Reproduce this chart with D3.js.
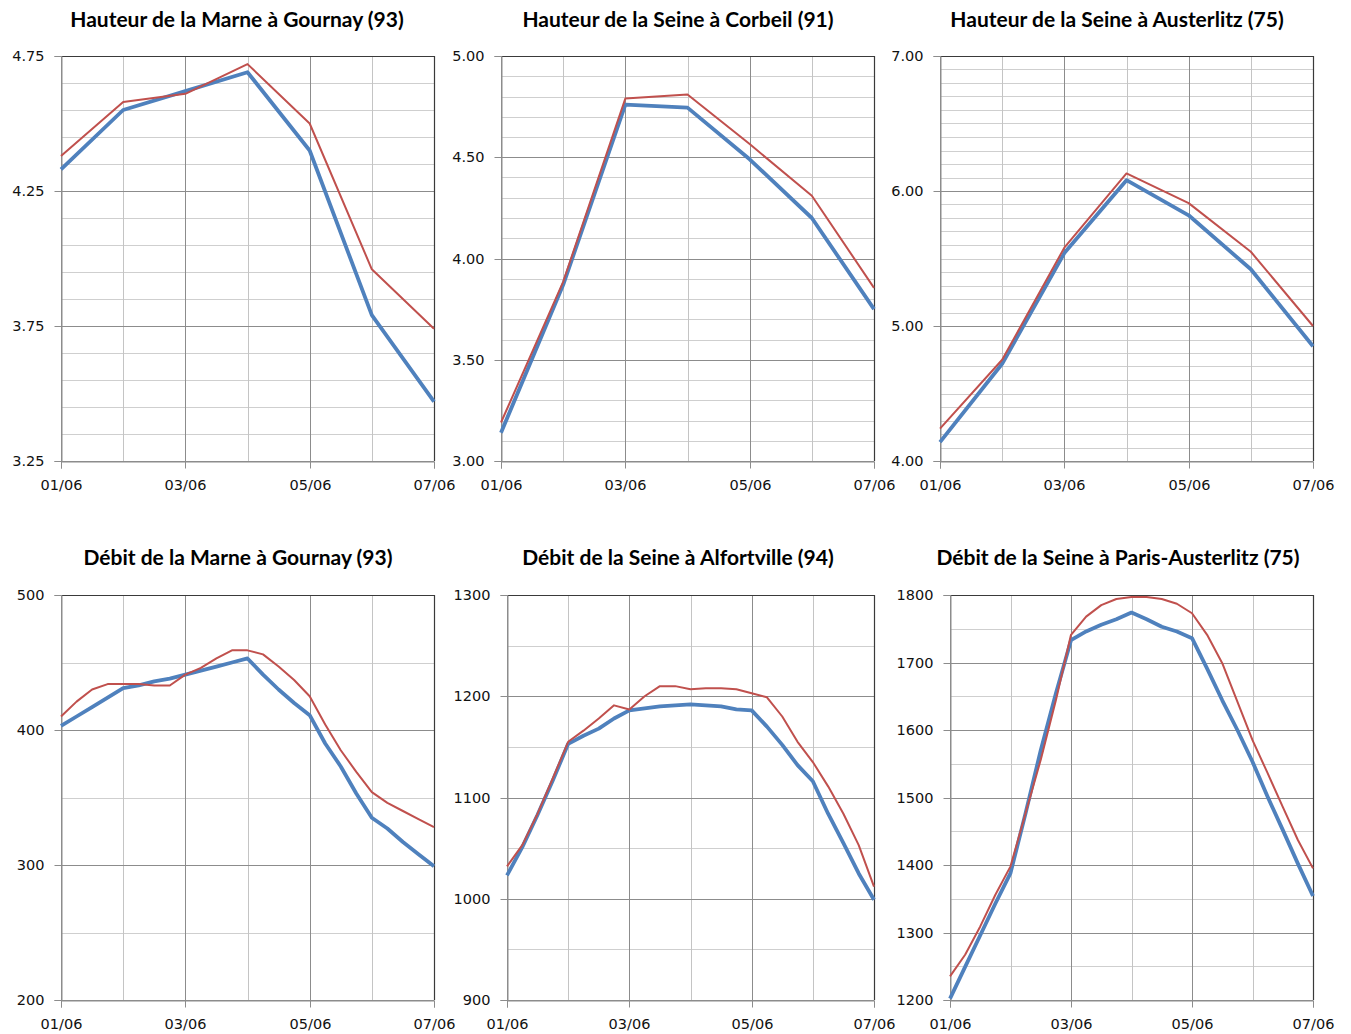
<!DOCTYPE html>
<html><head><meta charset="utf-8">
<script src="https://cdn.jsdelivr.net/npm/d3@7"></script>
<style>body{margin:0;background:#fff} svg{display:block} .tick text{font-family:"DejaVu Sans",sans-serif !important;font-size:14.5px}</style>
</head><body><svg id="c" width="1351" height="1034"></svg>
<script>
// ---------- DATA ----------
const titles = [
  "Hauteur de la Marne à Gournay (93)",
  "Hauteur de la Seine à Corbeil (91)",
  "Hauteur de la Seine à Austerlitz (75)",
  "Débit de la Marne à Gournay (93)",
  "Débit de la Seine à Alfortville (94)",
  "Débit de la Seine à Paris-Austerlitz (75)"
];
const xTickLabels = ["01/06", "03/06", "05/06", "07/06"];
const xTickHours = [0, 48, 96, 144];
const xMinorHours = [24, 72, 120];
const dailyHours = [0, 24, 48, 72, 96, 120, 144];
const sixHourly = [0,6,12,18,24,30,36,42,48,54,60,66,72,78,84,90,96,102,108,114,120,126,132,138,144];

// Hauteurs (m) — blue / red series
const marneGournayH_blue = [4.33, 4.55, 4.62, 4.69, 4.40, 3.79, 3.47];
const marneGournayH_red  = [4.38, 4.58, 4.61, 4.72, 4.50, 3.96, 3.74];
const seineCorbeilH_blue = [3.14, 3.87, 4.76, 4.745, 4.49, 4.20, 3.75];
const seineCorbeilH_red  = [3.19, 3.885, 4.79, 4.81, 4.565, 4.31, 3.855];
const seineAusterlitzH_blue = [4.14, 4.72, 5.54, 6.08, 5.82, 5.42, 4.85];
const seineAusterlitzH_red  = [4.24, 4.75, 5.58, 6.13, 5.91, 5.55, 5.00];

// Débits (m3/s) — 6-hourly
const marneGournayQ_blue = [403,410,417,424,431,433,436,438,441,444,447,450,453,441,430,420,411,390,373,353,335,327,317,308,299];
const marneGournayQ_red  = [410,421,430,434,434,434,433,433,441,446,453,459,459,456,447,437,425,404,385,369,354,346,340,334,328];
const seineAlfortvilleQ_blue = [1023,1051,1083,1117,1153,1161,1168,1178,1186,1188,1190,1191,1192,1191,1190,1187,1186,1170,1152,1132,1116,1084,1055,1025,999];
const seineAlfortvilleQ_red  = [1032,1053,1084,1119,1155,1166,1178,1191,1187,1200,1210,1210,1207,1208,1208,1207,1203,1199,1180,1155,1135,1111,1084,1053,1012];
const seineParisQ_blue = [1202,1249,1296,1343,1388,1477,1570,1654,1733,1746,1756,1764,1774,1764,1753,1746,1736,1691,1644,1600,1553,1501,1452,1402,1354];
const seineParisQ_red  = [1235,1267,1309,1356,1398,1477,1556,1644,1741,1768,1785,1794,1797,1797,1794,1787,1773,1741,1699,1642,1585,1536,1486,1437,1395];

// y axes: [min, max], major step, minor step
const yDomains = [[3.25,4.75],[3.00,5.00],[4.00,7.00],[200,500],[900,1300],[1200,1800]];
const yMajor = [0.5, 0.5, 1.0, 100, 100, 100];
const yMinor = [0.1, 0.1, 0.1, 50, 50, 50];
const yFormats = [".2f", ".2f", ".2f", "d", "d", "d"];

// ---------- LAYOUT ----------
const panels = [
  {x0:61,  x1:434,  y0:56,  y1:461, tx:237,  ty:27,  hours:dailyHours, blue:marneGournayH_blue, red:marneGournayH_red},
  {x0:501, x1:874,  y0:56,  y1:461, tx:678,  ty:27,  hours:dailyHours, blue:seineCorbeilH_blue, red:seineCorbeilH_red},
  {x0:940, x1:1313, y0:56,  y1:461, tx:1117, ty:27,  hours:dailyHours, blue:seineAusterlitzH_blue, red:seineAusterlitzH_red},
  {x0:61,  x1:434,  y0:595, y1:1000, tx:238, ty:565, hours:sixHourly, blue:marneGournayQ_blue, red:marneGournayQ_red},
  {x0:507, x1:874,  y0:595, y1:1000, tx:678, ty:565, hours:sixHourly, blue:seineAlfortvilleQ_blue, red:seineAlfortvilleQ_red},
  {x0:950, x1:1313, y0:595, y1:1000, tx:1118, ty:565, hours:sixHourly, blue:seineParisQ_blue, red:seineParisQ_red}
];

const svg = d3.select("#c");
const BLUE = "#4F81BD", RED = "#C0504D";
const MAJ = "#8c8c8c", MIN = "#cfcfcf";

panels.forEach((p, i) => {
  const [lo, hi] = yDomains[i];
  const x = d3.scaleLinear().domain([0, 144]).range([p.x0, p.x1]);
  const y = d3.scaleLinear().domain([lo, hi]).range([p.y1, p.y0]);
  const eps = 1e-9;
  const majors = d3.range(lo, hi + eps, yMajor[i]).map(v => +v.toFixed(4));
  const minors = d3.range(lo, hi + eps, yMinor[i]).map(v => +v.toFixed(4))
    .filter(v => !majors.some(m => Math.abs(m - v) < 1e-6));
  const g = svg.append("g");

  g.append("g").selectAll("line").data(minors).join("line")
    .attr("x1", p.x0).attr("x2", p.x1)
    .attr("y1", d => Math.round(y(d)) + 0.5).attr("y2", d => Math.round(y(d)) + 0.5)
    .attr("stroke", MIN).attr("stroke-width", 1);
  g.append("g").selectAll("line").data(xMinorHours).join("line")
    .attr("y1", p.y0).attr("y2", p.y1)
    .attr("x1", d => Math.round(x(d)) + 0.5).attr("x2", d => Math.round(x(d)) + 0.5)
    .attr("stroke", "#c4c4c4").attr("stroke-width", 1);
  g.append("g").selectAll("line").data(majors).join("line")
    .attr("x1", p.x0).attr("x2", p.x1)
    .attr("y1", d => Math.round(y(d)) + 0.5).attr("y2", d => Math.round(y(d)) + 0.5)
    .attr("stroke", MAJ).attr("stroke-width", 1);
  g.append("g").selectAll("line").data(xTickHours).join("line")
    .attr("y1", p.y0).attr("y2", p.y1)
    .attr("x1", d => Math.round(x(d)) + 0.5).attr("x2", d => Math.round(x(d)) + 0.5)
    .attr("stroke", MAJ).attr("stroke-width", 1);

  g.append("path")
    .attr("d", `M${p.x0},${p.y0 + 0.5}H${p.x1 + 0.5}V${p.y1}`)
    .attr("fill", "none").attr("stroke", "#3a3a3a").attr("stroke-width", 1.2);

  const ya = g.append("g").attr("transform", `translate(${p.x0 + 0.5},0)`)
    .call(d3.axisLeft(y).tickValues(majors).tickSize(7).tickPadding(10)
      .tickFormat(d3.format(yFormats[i])));
  ya.select(".domain").attr("stroke", MAJ);
  ya.selectAll(".tick line").attr("stroke", MAJ);
  ya.selectAll(".tick").attr("transform", d => `translate(0,${Math.round(y(d)) + 0.5})`);
  ya.selectAll("text").attr("fill", "#111");

  const xa = g.append("g").attr("transform", `translate(0,${p.y1 + 0.5})`)
    .call(d3.axisBottom(x).tickValues(xTickHours).tickSize(7).tickPadding(11)
      .tickFormat((d, k) => xTickLabels[k]));
  xa.select(".domain").attr("stroke", MAJ);
  xa.selectAll(".tick line").attr("stroke", MAJ);
  xa.selectAll(".tick").attr("transform", d => `translate(${Math.round(x(d)) + 0.5},0)`);
  xa.selectAll("text").attr("fill", "#111");

  const line = d3.line().x((d, k) => x(p.hours[k])).y(d => y(d));
  g.append("path").datum(p.blue).attr("d", line)
    .attr("fill", "none").attr("stroke", BLUE).attr("stroke-width", 3.8)
    .attr("stroke-linejoin", "round");
  g.append("path").datum(p.red).attr("d", line)
    .attr("fill", "none").attr("stroke", RED).attr("stroke-width", 2)
    .attr("stroke-linejoin", "round");

  svg.append("text").attr("x", p.tx).attr("y", p.ty)
    .attr("text-anchor", "middle")
    .attr("font-family", "Lato, sans-serif").attr("font-weight", "bold")
    .attr("font-size", 21).attr("fill", "#000")
    .text(titles[i]);
});
</script></body></html>
